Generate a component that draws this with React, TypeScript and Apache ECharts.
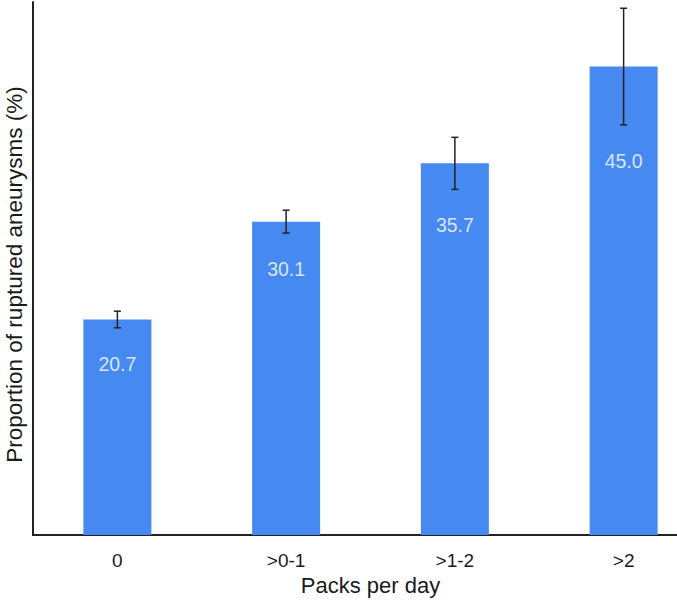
import React, { useEffect, useRef } from "react";
import * as echarts from "echarts";

const categories = ["0", ">0-1", ">1-2", ">2"];
const values = [20.7, 30.1, 35.7, 45.0];
const errLow = [19.9, 29.0, 33.2, 39.4];
const errHigh = [21.5, 31.2, 38.2, 50.6];

const FONT = "'Liberation Sans', Arial, Helvetica, sans-serif";

export default function App() {
  const ref = useRef<HTMLDivElement>(null);
  useEffect(() => {
    if (!ref.current) return;
    const chart = echarts.init(ref.current, undefined, { renderer: "svg" });
    chart.setOption({
      animation: false,
      backgroundColor: "#ffffff",
      textStyle: { fontFamily: FONT },
      grid: { left: 33, top: 2, width: 675, height: 533, outerBoundsMode: "none", containLabel: false },
      xAxis: {
        type: "category",
        data: categories,
        name: "Packs per day",
        nameLocation: "middle",
        nameGap: 35,
        nameTextStyle: { fontSize: 22, color: "#1a1a1a", fontFamily: FONT },
        axisLine: { show: true, lineStyle: { color: "#222", width: 2 } },
        axisTick: { show: false },
        axisLabel: { fontSize: 19, color: "#1a1a1a", margin: 16, fontFamily: FONT },
      },
      yAxis: {
        type: "value",
        min: 0,
        max: 51.2,
        name: "Proportion of ruptured aneurysms (%)",
        nameLocation: "middle",
        nameGap: 7,
        nameTextStyle: { fontSize: 22.5, color: "#1a1a1a", fontFamily: FONT, padding: [0, 12, 0, 0] },
        axisLine: { show: true, lineStyle: { color: "#222", width: 2 } },
        axisTick: { show: false },
        axisLabel: { show: false },
        splitLine: { show: false },
      },
      series: [
        {
          type: "bar",
          data: values,
          barWidth: 68,
          itemStyle: { color: "#4689f0" },
        },
        {
          type: "custom",
          data: categories.map((_, i) => [i, errLow[i], errHigh[i]]),
          z: 10,
          renderItem: (params: any, api: any) => {
            const x = api.value(0);
            const lo = api.coord([x, api.value(1)]);
            const hi = api.coord([x, api.value(2)]);
            const cap = 3.5;
            const style = { stroke: "#222", lineWidth: 1.5 };
            return {
              type: "group",
              children: [
                { type: "line", shape: { x1: lo[0], y1: lo[1], x2: hi[0], y2: hi[1] }, style },
                { type: "line", shape: { x1: hi[0] - cap, y1: hi[1], x2: hi[0] + cap, y2: hi[1] }, style },
                { type: "line", shape: { x1: lo[0] - cap, y1: lo[1], x2: lo[0] + cap, y2: lo[1] }, style },
              ],
            };
          },
        },
        {
          type: "scatter",
          symbolSize: 0,
          z: 11,
          data: categories.map((_, i) => [i, errLow[i]]),
          label: {
            show: true,
            position: "bottom",
            distance: 26,
            color: "#ffffff",
            fontSize: 19.5,
            fontFamily: FONT,
            formatter: (p: any) => values[p.dataIndex].toFixed(1),
          },
        },
      ],
    });
    return () => chart.dispose();
  }, []);
  return (
    <div
      ref={ref}
      style={{ position: "fixed", left: 0, top: 0, width: 677, height: 600, background: "#fff" }}
    />
  );
}
